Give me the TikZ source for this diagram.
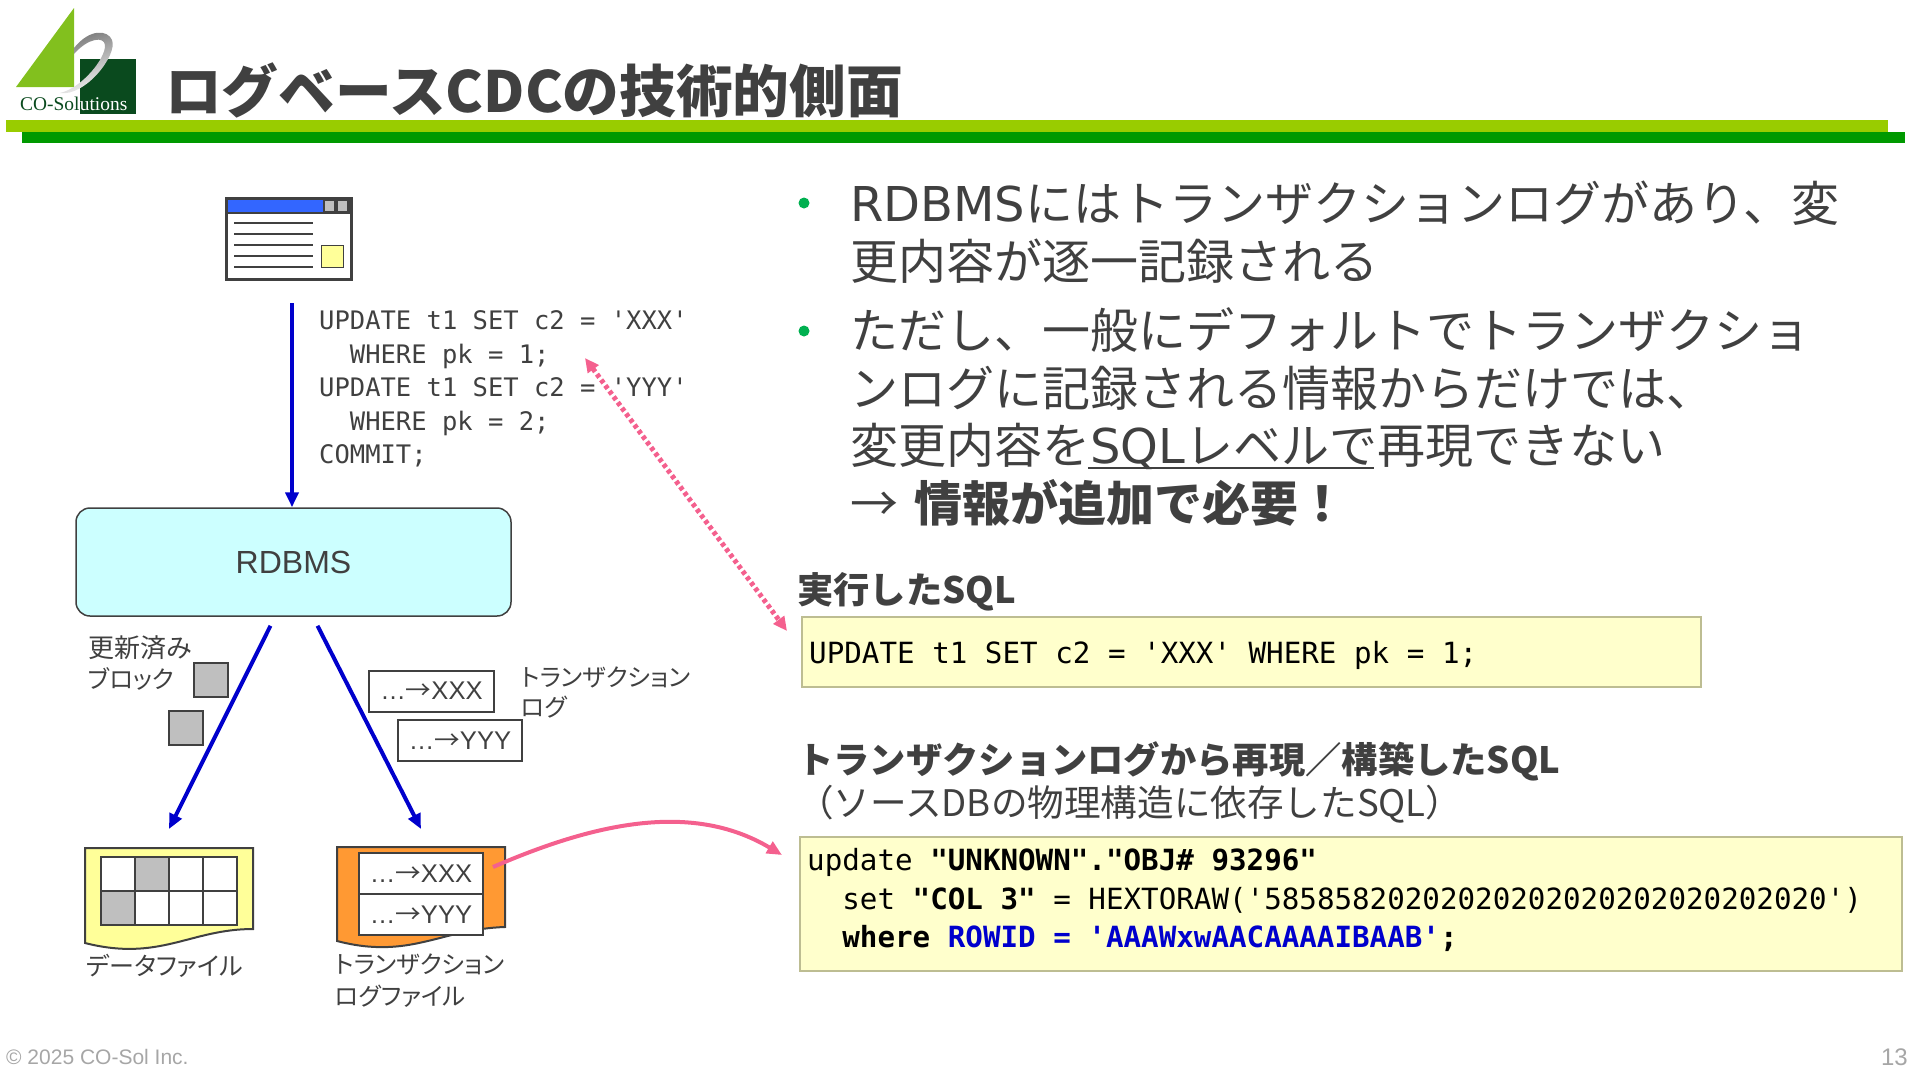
\documentclass[tikz,border=0pt]{standalone}
\usepackage{fontspec}
\usetikzlibrary{arrows.meta}
\setmainfont{DejaVu Sans}
\setmonofont{DejaVu Sans Mono}
\newfontfamily\jp{Noto Sans CJK JP}
\newfontfamily\jpnarrow{Noto Sans CJK JP}[RawFeature=+palt]
\newfontfamily\arial{Liberation Sans}
\newfontfamily\logofont{Liberation Serif}
\newcommand{\sz}[2]{\fontsize{#1}{#2}\selectfont}
\newcommand{\lat}[1]{{\rmfamily #1}}
\newcommand{\logval}[1]{…{\jp →}#1}
\definecolor{ink}{HTML}{404040}
\definecolor{barlight}{HTML}{99CC00}
\definecolor{bardark}{HTML}{009900}
\definecolor{logolight}{HTML}{82C01E}
\definecolor{logodark}{HTML}{0A4A1E}
\definecolor{flowblue}{HTML}{0000CC}
\definecolor{linkpink}{HTML}{F4608E}
\definecolor{paleyellow}{HTML}{FFFFCC}
\definecolor{fileyellow}{HTML}{FFFF99}
\definecolor{fileorange}{HTML}{FF9933}
\definecolor{olive}{HTML}{BDBD92}
\definecolor{block}{HTML}{BFBFBF}
\definecolor{palecyan}{HTML}{CCFFFF}
\definecolor{titleblue}{HTML}{3366FF}
\definecolor{bulletgreen}{HTML}{00B050}
\tikzset{
 txt/.style={inner sep=0pt,anchor=west,text=ink,align=left},
 boxed/.style={draw=ink,line width=2pt,inner sep=0pt},
 flow/.style={-{Triangle[length=15pt,width=13pt]},line width=4pt,flowblue},
 link/.style={-{Triangle[length=15pt,width=13pt]},line width=4pt,linkpink},
 sqlbox/.style={draw=olive,fill=paleyellow,line width=2pt,inner sep=0pt},
 logrow/.style={boxed,fill=white,text=ink,font=\arial\sz{25.6}{31}},
}
\begin{document}
\begin{tikzpicture}[x=1pt,y=-1pt]
 \useasboundingbox (0,0) rectangle (1920,1080);
 % logo and title
 \fill[logolight] (74,8)--(16,87)--(74,87)--cycle;
 \fill[logodark] (80,59) rectangle (136,114);
 \shade[top color=black!55,bottom color=white,shading angle=20] (60,93) .. controls (85,97) and (118,55) .. (112,40)
   .. controls (108,30) and (90,28) .. (74,48) -- (74,54) .. controls (88,38) and (104,36) .. (105,45)
   .. controls (106,58) and (82,88) .. (60,93);
 \node[inner sep=0pt,anchor=west,text=logodark,font=\logofont\sz{19.4}{24}] (logoa) at (20,104) {CO-Sol};
 \node[inner sep=0pt,anchor=west,text=white,font=\logofont\sz{19.4}{24}] (logob) at (logoa.east) {utions};
 \node[txt,font=\jp\bfseries\sz{56.7}{66}] (title) at (165,90) {ログベースCDCの技術的側面};
 \fill[barlight] (6,120) rectangle (1888,132);
 \fill[bardark] (22,132) rectangle (1905,143);
 % application window
 \node[draw=ink,line width=3pt,fill=white,minimum width=125pt,minimum height=81pt,inner sep=0pt] (win) at (288.5,238.5) {};
 \fill[ink] (226,198) rectangle (351,214);
 \fill[titleblue] (228,200) rectangle (323,212);
 \foreach \x in {325,338} \fill[block] (\x,201) rectangle (\x+9,211);
 \foreach \y in {223,234,245,256,267} \draw[ink,line width=1.3pt] (234,\y) -- (313,\y);
 \draw[ink,line width=1pt,fill=fileyellow] (321,245) rectangle (343,267);
 % statements on the left
 \node[txt,font=\ttfamily\sz{25.5}{33.5}] (stmts) at (319,389) {UPDATE t1 SET c2 = 'XXX'\\
 \ \ WHERE pk = 1;\\
 UPDATE t1 SET c2 = 'YYY'\\
 \ \ WHERE pk = 2;\\
 COMMIT;};
 \node[draw=ink,line width=1.5pt,fill=palecyan,rounded corners=14pt,minimum width=435pt,minimum height=108pt,text=ink,font=\arial\sz{32}{38}] (rdbms) at (293.5,562) {RDBMS};
 \coordinate (appout) at (292,303);
 \draw[flow] (appout) -- (appout |- rdbms.north);
 % blocks
 \node[txt,font=\jp\sz{26}{31}] (blocks) at (88,663) {更新済み\\{\jpnarrow\sz{24.4}{31}ブロック}};
 \node[boxed,fill=block,minimum size=34pt] (blocka) at (211,680) {};
 \node[boxed,fill=block,minimum size=34pt] (blockb) at (185.5,727.5) {};
 \node[logrow,minimum width=125pt,minimum height=41pt] (recx) at (431.5,691) {\logval{XXX}};
 \node[logrow,minimum width=124pt,minimum height=41pt] (recy) at (460,740.5) {\logval{YYY}};
 \node[txt,font=\jpnarrow\sz{24.4}{30}] (txlog) at (521,692) {トランザクション\\ログ};
 % data file
 \draw[ink,line width=2pt,fill=fileyellow] (85,848) -- (253,848) -- (253,929) .. controls (190,929) and (160,962) .. (85,943) -- cycle;
 \foreach \x/\y in {101/857,135/857,169/857,203/857,101/891,135/891,169/891,203/891}
   \draw[ink,line width=1.5pt,fill=white] (\x,\y) rectangle ++(34,34);
 \foreach \x/\y in {135/857,101/891}
   \draw[ink,line width=1.5pt,fill=block] (\x,\y) rectangle ++(34,34);
 \node[txt,font=\jpnarrow\sz{25}{31}] (datalabel) at (86,966) {データファイル};
 % log file
 \draw[ink,line width=2pt,fill=fileorange] (337,847) -- (505,847) -- (505,927) .. controls (440,929) and (410,960) .. (337,941) -- cycle;
 \node[logrow,minimum width=124pt,minimum height=41pt] (rowx) at (421,873.5) {\logval{XXX}};
 \node[logrow,minimum width=124pt,minimum height=41pt] (rowy) at (421,914.5) {\logval{YYY}};
 \node[txt,font=\jpnarrow\sz{24.4}{32}] (loglabel) at (335,981) {トランザクション\\ログファイル};
 \coordinate (datafile) at (169,829);
 \coordinate (logfile) at (421,829);
 \draw[flow] ([xshift=-23pt,yshift=-9pt]rdbms.south) -- (datafile);
 \draw[flow] ([xshift=24pt,yshift=-9pt]rdbms.south) -- (logfile);
 % bullets
 \foreach \y in {203,331} \fill[bulletgreen] (804,\y) circle (5.5pt);
 \node[txt,font=\jp\sz{48}{57.6}] (pointa) at (850,232) {\lat{RDBMS}にはトランザクションログがあり、変\\更内容が逐一記録される};
 \node[txt,font=\jp\sz{48}{57.6}] (pointb) at (850,417) {ただし、一般にデフォルトでトランザクショ\\ンログに記録される情報からだけでは、\\変更内容を\lat{SQL}レベルで再現できない\\→\hspace{16pt}{\bfseries 情報が追加で必要！}};
 \draw[ink,line width=2pt] (1088,468) -- (1374,468);
 % sql boxes
 \node[txt,font=\jp\bfseries\sz{36.3}{44}] (headexec) at (797,592) {実行したSQL};
 \node[sqlbox,minimum width=899pt,minimum height=70pt] (execbox) at (1251.5,652) {};
 \node[inner sep=0pt,anchor=west,font=\ttfamily\sz{29.2}{35}] (execsql) at (809,655) {UPDATE t1 SET c2 = 'XXX' WHERE pk = 1;};
 \node[txt,font=\jp\bfseries\sz{36.3}{44}] (headlog) at (797,761) {トランザクションログから再現／構築したSQL};
 \node[txt,font=\jp\sz{36.6}{43}] (subhead) at (797,804) {（ソースDBの物理構造に依存したSQL）};
 \node[sqlbox,minimum width=1102pt,minimum height=134pt] (logbox) at (1351,904) {};
 \node[inner sep=0pt,anchor=west,align=left,font=\ttfamily\sz{29.2}{38.5}] (logsql) at (807,900) {update {\bfseries "UNKNOWN"."OBJ\# 93296"}\\
 \ \ set {\bfseries "COL 3"} = HEXTORAW('58585820202020202020202020202020')\\
 \ \ {\bfseries where \textcolor{flowblue}{ROWID = 'AAAWxwAACAAAAIBAAB'};}};
 % links
 \coordinate (logout) at (493,867);
 \coordinate (login) at (782,855);
 \draw[link] (logout) .. controls (590,825) and (690,800) .. (login);
 \coordinate (stmtend) at (585,358);
 \coordinate (execend) at (787,631);
 \draw[{Triangle[length=14pt,width=13pt]}-{Triangle[length=14pt,width=13pt]},line width=5pt,linkpink,dash pattern=on 4pt off 3pt] (stmtend) -- (execend);
 % footer
 \node[inner sep=0pt,anchor=west,text=black!35,font=\arial\sz{21}{26}] (copy) at (6,1057) {© 2025 CO-Sol Inc.};
 \node[inner sep=0pt,anchor=east,text=black!35,font=\arial\sz{24}{28}] (page) at (1908,1057) {13};
\end{tikzpicture}
\end{document}
